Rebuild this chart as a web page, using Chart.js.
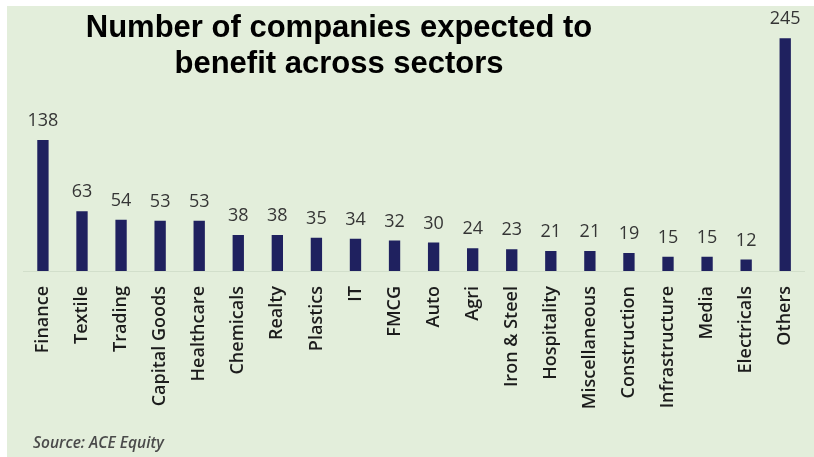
<!DOCTYPE html>
<html>
<head>
<meta charset="utf-8">
<title>Companies expected to benefit</title>
<script src="https://cdn.jsdelivr.net/npm/chart.js@4.4.0/dist/chart.umd.min.js"></script>
<style>
	html, body { margin: 0; padding: 0; background: #ffffff; overflow: hidden; }
	#canvas { display: block; }
</style>
</head>
<body>
<canvas id="canvas" width="814" height="457"></canvas>
<script>
// sectors and company counts
const sectors = ['Finance', 'Textile', 'Trading', 'Capital Goods', 'Healthcare', 'Chemicals', 'Realty',
	'Plastics', 'IT', 'FMCG', 'Auto', 'Agri', 'Iron & Steel', 'Hospitality', 'Miscellaneous',
	'Construction', 'Infrastructure', 'Media', 'Electricals', 'Others'];
const companies = [138, 63, 54, 53, 53, 38, 38, 35, 34, 32, 30, 24, 23, 21, 21, 19, 15, 15, 12, 245];

const titleLines = ['Number of companies expected to', 'benefit across sectors'];
const sourceNote = 'Source: ACE Equity';

const barColor = '#1f215f';
const textColor = '#1c1c1c';
const panelColor = '#e3eedb';

// pale green panel, white strip along the top and left
const panel = {
	id: 'panel',
	beforeDraw(chart) {
		const ctx = chart.ctx;
		ctx.save();
		ctx.fillStyle = '#ffffff';
		ctx.fillRect(0, 0, chart.width, chart.height);
		ctx.fillStyle = panelColor;
		ctx.fillRect(7, 6, chart.width - 7, chart.height - 6);
		ctx.restore();
	}
};

// numbers on top of each bar
const valueLabels = {
	id: 'valueLabels',
	afterDatasetsDraw(chart) {
		const ctx = chart.ctx;
		const meta = chart.getDatasetMeta(0);
		ctx.save();
		ctx.font = '500 18px "Open Sans"';
		ctx.fillStyle = '#353535';
		ctx.textAlign = 'center';
		ctx.textBaseline = 'alphabetic';
		meta.data.forEach((bar, i) => {
			ctx.fillText(String(companies[i]), bar.x, bar.y - 14);
		});
		ctx.restore();
	}
};

// heading and source line
const captions = {
	id: 'captions',
	afterDraw(chart) {
		const ctx = chart.ctx;
		ctx.save();
		ctx.fillStyle = '#000000';
		ctx.font = 'bold 31px "Liberation Sans", Arial, sans-serif';
		ctx.textAlign = 'center';
		ctx.textBaseline = 'alphabetic';
		ctx.fillText(titleLines[0], 339, 37);
		ctx.fillText(titleLines[1], 339, 73);

		ctx.font = 'italic 600 15.5px "Open Sans"';
		ctx.fillStyle = '#4a4a4a';
		ctx.textAlign = 'left';
		ctx.fillText(sourceNote, 33, 448);
		ctx.restore();
	}
};

const ctx = document.getElementById('canvas').getContext('2d');

const myBarChart = new Chart(ctx, {
	type: 'bar',
	data: {
		labels: sectors,
		datasets: [{
			data: companies,
			backgroundColor: barColor,
			borderWidth: 0,
			barPercentage: 0.29,
			categoryPercentage: 1
		}]
	},
	options: {
		responsive: false,
		animation: false,
		layout: {
			padding: { left: 23.4, right: 7.4, top: 24, bottom: 0 }
		},
		plugins: {
			legend: { display: false },
			tooltip: { enabled: false }
		},
		scales: {
			x: {
				grid: { display: false },
				border: { display: true, color: '#d2dfcb', width: 1 },
				ticks: {
					color: textColor,
					font: { family: 'Open Sans', size: 18, weight: '600' },
					minRotation: 90,
					maxRotation: 90,
					autoSkip: false,
					padding: 7
				},
				afterFit(scale) {
					scale.height = 186;
				}
			},
			y: {
				display: false,
				min: 0,
				max: 260
			}
		}
	},
	plugins: [panel, valueLabels, captions]
});
</script>
</body>
</html>
